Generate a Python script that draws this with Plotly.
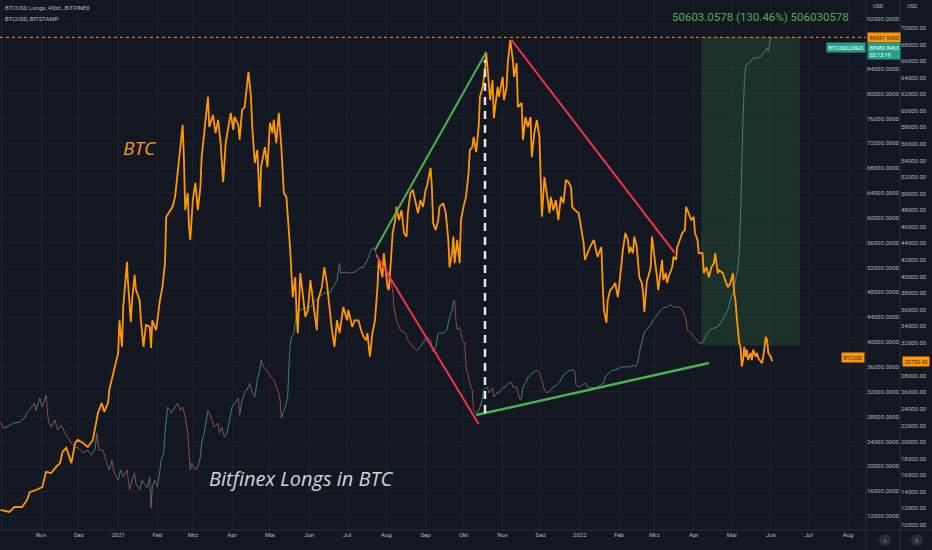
import plotly.graph_objects as go

# ---------------- data ----------------
BTC_DATES = [
 "2020-09-30","2020-10-07","2020-10-11","2020-10-17","2020-10-21","2020-10-23","2020-10-28","2020-11-02","2020-11-05","2020-11-09",
 "2020-11-13","2020-11-16","2020-11-18","2020-11-21","2020-11-25","2020-11-28","2020-11-30","2020-12-04","2020-12-08","2020-12-12",
 "2020-12-16","2020-12-19","2020-12-21","2020-12-24","2020-12-25","2020-12-28","2020-12-31","2021-01-01","2021-01-02","2021-01-04",
 "2021-01-05","2021-01-08","2021-01-08 12:00","2021-01-10","2021-01-11","2021-01-12","2021-01-14","2021-01-15","2021-01-18","2021-01-19",
 "2021-01-21","2021-01-23","2021-01-26","2021-01-27","2021-01-28","2021-01-31","2021-02-03","2021-02-05","2021-02-07","2021-02-08",
 "2021-02-11","2021-02-13","2021-02-15","2021-02-17","2021-02-20","2021-02-21","2021-02-22","2021-02-23","2021-02-25","2021-02-26",
 "2021-02-27","2021-03-01","2021-03-03","2021-03-04","2021-03-05","2021-03-07","2021-03-08","2021-03-10","2021-03-13","2021-03-14",
 "2021-03-17","2021-03-19","2021-03-21","2021-03-23","2021-03-25","2021-03-27","2021-03-29","2021-03-31","2021-04-02","2021-04-03",
 "2021-04-06","2021-04-07","2021-04-09","2021-04-11","2021-04-14","2021-04-16","2021-04-17","2021-04-19","2021-04-21","2021-04-23",
 "2021-04-24","2021-04-27","2021-04-29","2021-05-01","2021-05-03","2021-05-04","2021-05-06","2021-05-08","2021-05-10","2021-05-12",
 "2021-05-14","2021-05-16","2021-05-17","2021-05-19","2021-05-21","2021-05-22","2021-05-23","2021-05-25","2021-05-27","2021-05-29",
 "2021-05-31","2021-06-02","2021-06-04","2021-06-06","2021-06-07","2021-06-08","2021-06-10","2021-06-11","2021-06-12","2021-06-13",
 "2021-06-15","2021-06-17","2021-06-19","2021-06-21","2021-06-23","2021-06-25","2021-06-27","2021-06-28","2021-07-01","2021-07-02",
 "2021-07-05","2021-07-07","2021-07-10","2021-07-12","2021-07-14","2021-07-16","2021-07-17","2021-07-19","2021-07-21","2021-07-23",
 "2021-07-25","2021-07-26","2021-07-29","2021-07-30","2021-08-02","2021-08-03","2021-08-05","2021-08-06","2021-08-08","2021-08-09",
 "2021-08-11","2021-08-13","2021-08-15","2021-08-17","2021-08-18","2021-08-20","2021-08-22","2021-08-24","2021-08-26","2021-08-28",
 "2021-08-30","2021-09-01","2021-09-02","2021-09-05","2021-09-06","2021-09-07","2021-09-09","2021-09-11","2021-09-12","2021-09-15",
 "2021-09-17","2021-09-19","2021-09-20","2021-09-22","2021-09-23","2021-09-24","2021-09-26","2021-09-28","2021-09-29","2021-10-01",
 "2021-10-03","2021-10-05","2021-10-06","2021-10-08","2021-10-09","2021-10-11","2021-10-13","2021-10-14","2021-10-16","2021-10-18",
 "2021-10-19","2021-10-21","2021-10-22","2021-10-24","2021-10-25","2021-10-28","2021-10-29","2021-11-01","2021-11-02","2021-11-04",
 "2021-11-05","2021-11-07","2021-11-09","2021-11-10","2021-11-12","2021-11-13","2021-11-16","2021-11-17","2021-11-19","2021-11-21",
 "2021-11-23","2021-11-24","2021-11-26","2021-11-28","2021-11-30","2021-12-01","2021-12-02","2021-12-04","2021-12-06","2021-12-08",
 "2021-12-09","2021-12-11","2021-12-13","2021-12-15","2021-12-17","2021-12-19","2021-12-21","2021-12-23","2021-12-25","2021-12-26",
 "2021-12-28","2021-12-31","2022-01-01","2022-01-04","2022-01-05","2022-01-07","2022-01-09","2022-01-12","2022-01-13","2022-01-15",
 "2022-01-16","2022-01-18","2022-01-19","2022-01-20","2022-01-22","2022-01-23","2022-01-25","2022-01-27","2022-01-29","2022-01-31",
 "2022-02-01","2022-02-03","2022-02-04","2022-02-06","2022-02-08","2022-02-09","2022-02-10","2022-02-12","2022-02-13","2022-02-15",
 "2022-02-16","2022-02-17","2022-02-19","2022-02-20","2022-02-21","2022-02-23","2022-02-24","2022-02-26","2022-02-27","2022-02-28",
 "2022-03-02","2022-03-03","2022-03-04","2022-03-06","2022-03-07","2022-03-08","2022-03-10","2022-03-11","2022-03-12","2022-03-15",
 "2022-03-16","2022-03-18","2022-03-19","2022-03-21","2022-03-23","2022-03-25","2022-03-26","2022-03-28","2022-03-30","2022-04-01",
 "2022-04-02","2022-04-04","2022-04-05","2022-04-08","2022-04-09","2022-04-11","2022-04-13","2022-04-15","2022-04-17","2022-04-18",
 "2022-04-20","2022-04-21","2022-04-24","2022-04-25","2022-04-27","2022-04-28","2022-04-30","2022-05-02","2022-05-03","2022-05-04",
 "2022-05-05","2022-05-06","2022-05-07","2022-05-08","2022-05-09","2022-05-10","2022-05-11","2022-05-12","2022-05-13","2022-05-14",
 "2022-05-16","2022-05-17","2022-05-18","2022-05-20","2022-05-21","2022-05-22","2022-05-24","2022-05-25","2022-05-26","2022-05-28",
 "2022-05-29","2022-05-30","2022-05-31","2022-06-01","2022-06-02",
]
BTC_VALUES = [
 11800,11550,12150,12150,13000,13950,14200,14550,16400,16250,
 17000,17450,18800,19300,17450,19900,20250,19900,19400,20250,
 23500,24700,23650,24700,26300,28300,29900,30750,34700,31500,
 36300,41750,39900,37100,34500,37100,40200,38400,37100,34700,
 31500,34150,33900,31350,34700,33500,37100,38700,41600,47200,
 48000,48400,49600,52500,56500,58300,54100,48000,50050,46000,
 44400,49200,51300,49600,48000,50800,54400,57300,61700,58050,
 59500,57300,58900,56100,51400,56100,58050,59750,57700,59250,
 58300,56500,60100,60450,64700,61700,58050,53700,55250,48400,
 53200,55600,53200,58550,57300,58900,56100,59750,55600,50050,
 49600,46000,43200,37500,39900,35600,33150,40400,38000,35100,
 35950,39550,37100,34700,33500,37100,38000,38700,39900,41100,
 39200,35950,33500,31500,34700,33150,35600,36300,34700,35950,
 33900,34700,34700,33500,32700,32300,33150,30300,33150,34700,
 38700,42000,39900,42800,38700,38350,42800,45250,46800,48400,
 46800,48000,45250,44800,47650,50050,50450,49200,47650,49200,
 48400,50450,50800,53100,50800,46450,45600,46800,48400,48850,
 47650,44400,41100,42800,44800,41600,44400,41600,46800,48400,
 49600,52500,55250,55600,56850,55000,58050,61700,62750,64900,
 67000,63350,61300,63700,59100,62900,61700,64100,61300,62750,
 65750,68550,66150,64100,65750,60450,60950,56500,59250,58050,
 59250,54400,57300,58900,56850,52000,47200,52000,50050,47650,
 49600,48000,49200,46800,49600,48850,51650,51400,50800,48400,
 48000,47650,46800,44000,42000,42800,43550,44400,43550,42350,
 42800,43550,39200,35950,34400,37100,38350,38700,39200,37500,
 38700,42350,43200,45250,44400,42800,43550,42800,44800,43550,
 41100,39900,39200,38000,35700,39550,39900,41100,44800,43550,
 41600,39900,38350,41100,42000,39550,40400,39200,39900,41100,
 42350,42000,43550,44400,45250,45600,48400,47650,46800,47200,
 45250,44400,42800,42800,40400,41100,39900,41100,41600,42800,
 40400,40750,40400,39900,39200,38700,39200,40400,38000,37100,
 35100,33150,31950,31500,29100,29900,31500,30300,31150,29900,
 30750,29900,31150,30300,30750,30150,29650,29500,30300,32700,
 32300,30750,30500,30300,29750.42,
]

LONGS_DATES = [
 "2020-09-30","2020-10-02","2020-10-05","2020-10-10","2020-10-15","2020-10-19","2020-10-21","2020-10-24","2020-10-27","2020-10-28",
 "2020-10-31","2020-11-02","2020-11-05","2020-11-06","2020-11-07","2020-11-09","2020-11-12","2020-11-14","2020-11-17","2020-11-20",
 "2020-11-22","2020-11-25","2020-11-28","2020-12-01","2020-12-04","2020-12-08","2020-12-11","2020-12-14","2020-12-15","2020-12-17",
 "2020-12-20","2020-12-23","2020-12-25","2020-12-27","2020-12-29","2021-01-01","2021-01-03","2021-01-05","2021-01-08","2021-01-10",
 "2021-01-12","2021-01-14","2021-01-15","2021-01-18","2021-01-20","2021-01-23","2021-01-24","2021-01-26","2021-01-27","2021-01-28",
 "2021-01-30","2021-02-01","2021-02-03","2021-02-04","2021-02-06","2021-02-07","2021-02-09","2021-02-11","2021-02-12","2021-02-15",
 "2021-02-17","2021-02-19","2021-02-21","2021-02-23","2021-02-25","2021-02-26","2021-02-27","2021-02-28","2021-03-03","2021-03-05",
 "2021-03-07","2021-03-08","2021-03-10","2021-03-13","2021-03-14","2021-03-16","2021-03-18","2021-03-21","2021-03-22","2021-03-24",
 "2021-03-26","2021-03-28","2021-03-30","2021-04-01","2021-04-04","2021-04-06","2021-04-07","2021-04-09","2021-04-11","2021-04-14",
 "2021-04-15","2021-04-17","2021-04-19","2021-04-21","2021-04-23","2021-04-24","2021-04-26","2021-04-28","2021-04-30","2021-05-02",
 "2021-05-04","2021-05-06","2021-05-08","2021-05-09","2021-05-10","2021-05-12","2021-05-13","2021-05-15","2021-05-16","2021-05-17",
 "2021-05-18","2021-05-20","2021-05-22","2021-05-25","2021-05-29","2021-06-02","2021-06-06","2021-06-09","2021-06-13","2021-06-17",
 "2021-06-20","2021-06-23","2021-06-25","2021-06-26","2021-06-29","2021-07-04","2021-07-07","2021-07-11","2021-07-14","2021-07-17",
 "2021-07-19","2021-07-21","2021-07-23","2021-07-25","2021-07-29","2021-07-31","2021-08-03","2021-08-06","2021-08-07","2021-08-09",
 "2021-08-12","2021-08-16","2021-08-18","2021-08-22","2021-08-25","2021-08-28","2021-08-30","2021-09-02","2021-09-05","2021-09-07",
 "2021-09-09","2021-09-11","2021-09-14","2021-09-16","2021-09-18","2021-09-19","2021-09-20","2021-09-22","2021-09-23","2021-09-24",
 "2021-09-25","2021-09-26","2021-09-28","2021-09-29","2021-09-30","2021-10-02","2021-10-03","2021-10-05","2021-10-07","2021-10-08",
 "2021-10-09","2021-10-11","2021-10-13","2021-10-14","2021-10-16","2021-10-17","2021-10-20","2021-10-21","2021-10-24","2021-10-25",
 "2021-10-28","2021-10-29","2021-11-01","2021-11-02","2021-11-04","2021-11-06","2021-11-08","2021-11-09","2021-11-12","2021-11-13",
 "2021-11-15","2021-11-16","2021-11-17","2021-11-19","2021-11-21","2021-11-23","2021-11-24","2021-11-26","2021-11-28","2021-11-30",
 "2021-12-01","2021-12-02","2021-12-04","2021-12-06","2021-12-09","2021-12-11","2021-12-14","2021-12-17","2021-12-19","2021-12-22",
 "2021-12-25","2021-12-27","2021-12-28","2021-12-29","2021-12-31","2022-01-03","2022-01-05","2022-01-07","2022-01-09","2022-01-12",
 "2022-01-15","2022-01-17","2022-01-20","2022-01-21","2022-01-24","2022-01-27","2022-01-29","2022-02-01","2022-02-04","2022-02-06",
 "2022-02-10","2022-02-12","2022-02-14","2022-02-16","2022-02-17","2022-02-18","2022-02-20","2022-02-21","2022-02-22","2022-02-24",
 "2022-02-26","2022-02-28","2022-03-03","2022-03-06","2022-03-08","2022-03-11","2022-03-14","2022-03-16","2022-03-19","2022-03-22",
 "2022-03-24","2022-03-26","2022-03-27","2022-03-30","2022-04-01","2022-04-04","2022-04-05","2022-04-08","2022-04-09","2022-04-11",
 "2022-04-14","2022-04-17","2022-04-20","2022-04-22","2022-04-25","2022-04-28","2022-04-30","2022-05-03","2022-05-04","2022-05-06",
 "2022-05-07","2022-05-08","2022-05-09","2022-05-10","2022-05-11","2022-05-12","2022-05-14","2022-05-16","2022-05-18","2022-05-21",
 "2022-05-24","2022-05-26","2022-05-28","2022-05-29","2022-05-30","2022-05-31","2022-06-01",
]
LONGS_VALUES = [
 27100,26150,26300,26950,27100,27750,28700,29350,30150,29000,
 30950,29550,31450,29000,27100,26300,27450,25850,26650,25350,
 24700,23750,23100,22950,22150,22600,21800,22950,25350,22600,
 22600,20500,19400,21000,18900,17800,19400,18250,19400,16200,
 17800,18900,17300,16200,17800,16650,16650,18250,13300,16650,
 17800,16650,19400,21000,22150,25350,29550,29000,28550,29550,
 30150,29000,29550,27900,25350,22150,19400,20500,19400,19900,
 21500,23750,25350,29000,28550,27450,26300,26950,25350,26300,
 24700,25350,27450,29550,30350,30950,28250,30650,31800,32750,
 33400,31800,31150,33900,35500,37100,36000,35500,35000,34350,
 33900,32750,31800,30650,27750,29000,29550,31150,36000,39500,
 40800,41450,44650,45150,45500,45650,46750,47250,47900,47900,
 48850,49950,52700,51100,51250,51100,51250,51900,52050,53200,
 54350,55150,54800,53700,52700,52050,51100,48400,45650,43550,
 41950,41450,40300,39200,38700,39200,39850,40800,40300,38400,
 39200,41450,41450,41600,41950,43050,44000,45150,46450,46750,
 43550,41950,42400,41450,40300,39850,36000,34350,32600,32250,
 29000,28550,29000,29550,30950,32250,32750,31800,32600,31150,
 31950,31800,32750,32600,33100,33400,33550,32750,32750,31800,
 30650,31150,32750,33400,34350,34700,35000,35200,35500,35000,
 34350,33900,32250,31800,32250,32750,33100,33900,34700,35200,
 35500,35500,35200,33100,32750,33100,33400,32750,32750,32600,
 32750,33100,33400,34350,35000,35500,35500,35800,36000,36000,
 36000,36300,36000,36800,38250,39200,40800,41450,41950,42250,
 42750,43550,44350,45150,45500,45650,46000,45650,45650,45500,
 44650,43550,41950,41450,40800,40300,39850,39850,40300,41150,
 41950,42250,42400,43050,44000,45150,46750,48400,50000,52050,
 54350,60100,68200,76200,81700,84300,84900,85100,85700,85700,
 85900,86500,87000,87350,86700,88150,88980.8463,
]

LONGS_HIGH = 89047.9090
LONGS_LAST = 88980.8463
BTC_LAST = 29750.42
COUNTDOWN = "03:13:19"
MEASURE_TEXT = "50603.0578 (130.46%) 506030578"

MONTH_TICKS = ["2020-10-01","2020-11-01","2020-12-01","2021-01-01","2021-02-01","2021-03-01","2021-04-01","2021-05-01",
               "2021-06-01","2021-07-01","2021-08-01","2021-09-01","2021-10-01","2021-11-01","2021-12-01","2022-01-01",
               "2022-02-01","2022-03-01","2022-04-01","2022-05-01","2022-06-01","2022-07-01","2022-08-01"]
MONTH_LABELS = ["Okt","Nov","Dez","2021","Feb","Mrz","Apr","Mai","Jun","Jul","Aug","Sep","Okt","Nov","Dez","2022",
                "Feb","Mrz","Apr","Mai","Jun","Jul","Aug"]
# tick labels hidden behind the price labels in the reference are left out (88000 / 30000)
LONGS_TICKS = [v for v in range(12000, 92001, 4000) if v != 88000]
BTC_TICKS = [v for v in range(10000, 70001, 2000) if v != 30000]

# drawings (time, price)
GREEN_UP = (("2021-07-23", 43200), ("2021-10-19", 67100))          # on BTC axis
RED_DOWN_LONGS = (("2021-07-24", 54000), ("2021-10-13", 26800))    # on Longs axis
GREEN_LONGS = (("2021-10-11", 28250), ("2022-04-13", 36620))       # on Longs axis
RED_DOWN_BTC = (("2021-11-08", 68550), ("2022-03-17", 42830))      # on BTC axis
DASH_V = ("2021-10-18", 23500, 66130)                              # on BTC axis
BOX = ("2022-04-07", "2022-06-24", 39500, 89100)                   # on Longs axis

# ---------------- figure ----------------
BG = "#131722"
TXT = "#b2b5be"
FONT = "Liberation Sans Narrow, Roboto, DejaVu Sans, sans-serif"
ORANGE = "#ff9800"
TEAL = "#22a08e"

fig = go.Figure()

# longs as up/down coloured segments
up_x, up_y, dn_x, dn_y = [], [], [], []
for i in range(1, len(LONGS_DATES)):
    seg_x = [LONGS_DATES[i - 1], LONGS_DATES[i], None]
    seg_y = [LONGS_VALUES[i - 1], LONGS_VALUES[i], None]
    if LONGS_VALUES[i] >= LONGS_VALUES[i - 1]:
        up_x += seg_x; up_y += seg_y
    else:
        dn_x += seg_x; dn_y += seg_y
fig.add_trace(go.Scatter(x=up_x, y=up_y, mode="lines", line=dict(color="#3b8279", width=1),
                         yaxis="y", showlegend=False, hoverinfo="skip"))
fig.add_trace(go.Scatter(x=dn_x, y=dn_y, mode="lines", line=dict(color="#94474d", width=1),
                         yaxis="y", showlegend=False, hoverinfo="skip"))

fig.add_trace(go.Scatter(x=BTC_DATES, y=BTC_VALUES, mode="lines", line=dict(color=ORANGE, width=1.8),
                         yaxis="y2", showlegend=False))

XDOM = 866 / 932
shapes = []
shapes.append(dict(type="rect", xref="x", yref="y", x0=BOX[0], x1=BOX[1], y0=BOX[2], y1=BOX[3],
                   fillcolor="rgba(76,175,80,0.17)", line=dict(width=0), layer="between"))
shapes.append(dict(type="line", xref="paper", yref="y", x0=0, x1=XDOM, y0=LONGS_HIGH, y1=LONGS_HIGH,
                   line=dict(color=ORANGE, width=1, dash="dot")))
shapes.append(dict(type="line", xref="x", yref="y2", x0=GREEN_UP[0][0], y0=GREEN_UP[0][1],
                   x1=GREEN_UP[1][0], y1=GREEN_UP[1][1], line=dict(color="#4caf50", width=2)))
shapes.append(dict(type="line", xref="x", yref="y", x0=RED_DOWN_LONGS[0][0], y0=RED_DOWN_LONGS[0][1],
                   x1=RED_DOWN_LONGS[1][0], y1=RED_DOWN_LONGS[1][1], line=dict(color="#f23645", width=2)))
shapes.append(dict(type="line", xref="x", yref="y", x0=GREEN_LONGS[0][0], y0=GREEN_LONGS[0][1],
                   x1=GREEN_LONGS[1][0], y1=GREEN_LONGS[1][1], line=dict(color="#4caf50", width=2.5)))
shapes.append(dict(type="line", xref="x", yref="y2", x0=RED_DOWN_BTC[0][0], y0=RED_DOWN_BTC[0][1],
                   x1=RED_DOWN_BTC[1][0], y1=RED_DOWN_BTC[1][1], line=dict(color="#f23645", width=2)))
shapes.append(dict(type="line", xref="x", yref="y2", x0=DASH_V[0], x1=DASH_V[0], y0=DASH_V[1], y1=DASH_V[2],
                   line=dict(color="#e6e6e6", width=2.5, dash="8px,6px")))
for xp in (XDOM, 900 / 932):
    shapes.append(dict(type="line", xref="paper", yref="paper", x0=xp, x1=xp, y0=-20 / 530, y1=1,
                       line=dict(color="#2a2e39", width=1)))
shapes.append(dict(type="line", xref="paper", yref="paper", x0=0, x1=1, y0=0, y1=0,
                   line=dict(color="#2a2e39", width=1)))
for cx in (885, 917):
    shapes.append(dict(type="circle", xref="paper", yref="paper",
                       x0=(cx - 6) / 932, x1=(cx + 6) / 932, y0=(530 - 546) / 530, y1=(530 - 534) / 530,
                       fillcolor="#2a2e39", line=dict(width=0)))

ann = []
def A(**kw):
    base = dict(showarrow=False, font=dict(family=FONT, size=6, color=TXT))
    base.update(kw)
    ann.append(base)

A(text="BTCUSD Longs, 4Std., BITFINEX", xref="paper", yref="paper", x=3 / 932, y=1 - 8 / 530,
  xanchor="left", yanchor="middle", font=dict(family=FONT, size=6, color=TXT))
A(text="BTCUSD, BITSTAMP", xref="paper", yref="paper", x=3 / 932, y=1 - 19 / 530,
  xanchor="left", yanchor="middle", font=dict(family=FONT, size=6, color=TXT))
A(text="USD", xref="paper", yref="paper", x=871 / 932, y=1 - 6 / 530, xanchor="left", yanchor="middle",
  font=dict(family=FONT, size=5.5, color=TXT))
A(text="USD", xref="paper", yref="paper", x=905 / 932, y=1 - 6 / 530, xanchor="left", yanchor="middle",
  font=dict(family=FONT, size=5.5, color=TXT))

A(text="<i>BTC</i>", xref="x", yref="y2", x="2021-01-03", y=55500, xanchor="left", yanchor="middle",
  font=dict(family="Open Sans, sans-serif", size=19, color="#f39c12"))
A(text="<i>Bitfinex Longs in BTC</i>", xref="x", yref="y", x="2021-03-12", y=18100, xanchor="left",
  yanchor="middle", font=dict(family="Open Sans, sans-serif", size=20, color="#d1d4dc"))
A(text=MEASURE_TEXT, xref="x", yref="y", x="2022-05-24", y=92400,
  xanchor="center", yanchor="middle", font=dict(family="Roboto, sans-serif", size=11.5, color="#4caf50"))

# price labels
A(text="%.4f" % LONGS_HIGH, xref="paper", yref="y", x=XDOM + 0.001, y=LONGS_HIGH, xanchor="left", yanchor="middle",
  bgcolor=ORANGE, font=dict(family=FONT, size=5.5, color="#1e222d"), borderpad=1.5)
A(text="BTCUSDLONGS", xref="paper", yref="y", x=XDOM, y=LONGS_LAST, yshift=-10, xanchor="right",
  yanchor="middle", bgcolor=TEAL, font=dict(family=FONT, size=5, color="#ffffff"), borderpad=1.5)
A(text="%.4f<br>%s" % (LONGS_LAST, COUNTDOWN), xref="paper", yref="y", x=XDOM + 0.001, y=LONGS_LAST, yshift=-13,
  xanchor="left", yanchor="middle", bgcolor=TEAL, font=dict(family=FONT, size=5.5, color="#ffffff"),
  borderpad=1.5, align="left")
A(text="BTCUSD", xref="paper", yref="y2", x=XDOM - 0.001, y=BTC_LAST, yshift=4, xanchor="right", yanchor="middle",
  bgcolor=ORANGE, font=dict(family=FONT, size=5, color="#1e222d"), borderpad=1.5)
A(text="%.2f" % BTC_LAST, xref="paper", yref="y2", x=901.5 / 932, y=BTC_LAST, xanchor="left", yanchor="middle",
  bgcolor=ORANGE, font=dict(family=FONT, size=5.5, color="#1e222d"), borderpad=1.5)
A(text="A", xref="paper", yref="paper", x=885 / 932, y=(530 - 540) / 530, xanchor="center", yanchor="middle",
  font=dict(family=FONT, size=6, color="#787b86"))
A(text="B", xref="paper", yref="paper", x=917 / 932, y=(530 - 540) / 530, xanchor="center", yanchor="middle",
  font=dict(family=FONT, size=6, color="#787b86"))

fig.update_layout(
    width=932, height=550,
    margin=dict(l=0, r=0, t=0, b=20),
    paper_bgcolor=BG, plot_bgcolor=BG,
    showlegend=False,
    xaxis=dict(type="date", domain=[0, XDOM], range=["2020-09-29 14:00", "2022-08-15 05:00"],
               tickvals=MONTH_TICKS, ticktext=MONTH_LABELS, showgrid=True, gridcolor="#1b1f2b",
               zeroline=False, showline=False, ticks="", tickfont=dict(family=FONT, size=6, color=TXT),
               automargin=False, fixedrange=True),
    yaxis=dict(side="right", anchor="x", range=[9746, 95058], tickvals=LONGS_TICKS, tickformat=".4f",
               showgrid=True, gridcolor="#1b1f2b", zeroline=False, showline=False, ticks="",
               tickfont=dict(family=FONT, size=6, color=TXT), automargin=False),
    yaxis2=dict(overlaying="y", side="right", anchor="free", position=900 / 932, range=[9372, 73382],
                tickvals=BTC_TICKS, tickformat=".2f", showgrid=False, zeroline=False, showline=False, ticks="",
                tickfont=dict(family=FONT, size=6, color=TXT), automargin=False),
    shapes=shapes,
    annotations=ann,
)

fig.write_html("out.html")
